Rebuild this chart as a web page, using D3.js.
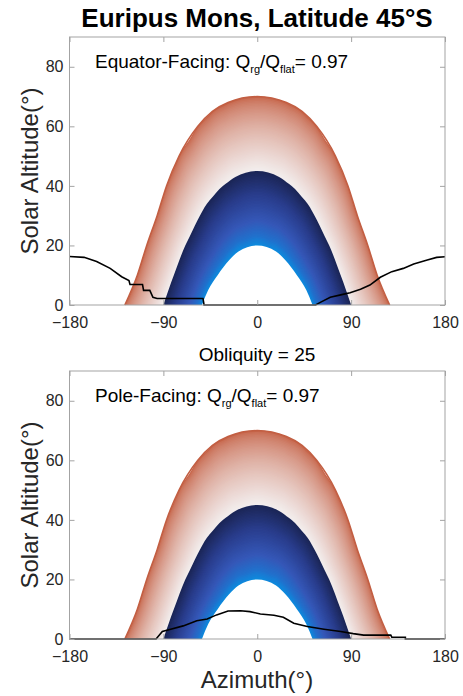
<!DOCTYPE html>
<html>
<head>
<meta charset="utf-8">
<script src="https://cdn.jsdelivr.net/npm/d3@7"></script>
<style>
  body { margin: 0; background: #fff; }
  text { font-family: "Liberation Sans", Arial, sans-serif; }
</style>
</head>
<body>
<svg id="chart" width="463" height="696"></svg>
<script>
// ------------------------------------------------------------
// data
// ------------------------------------------------------------
var azimuthTicks  = [-180, -90, 0, 90, 180];
var altitudeTicks = [0, 20, 40, 60, 80];

// sun paths, right half (symmetric about azimuth 0) : [azimuth, altitude]
var summerPath  = [[0,70],[28,68],[43,65],[57,60],[75,50],[87,40],[96,30],[106,20],[115,10],[127,0]];
var equinoxPath = [[0,45],[21,43],[33,40],[46,35],[55,30],[69,20],[80,10],[90,0]];
var winterPath  = [[0,20],[18,18],[27,15],[38,10],[47,5],[53,0]];

// horizon seen from each slope : [azimuth, altitude]
var equatorHorizon = [[-180,16.3],[-166,16.0],[-154,14.6],[-141,12.3],[-130,9.5],[-123,8.2],[-122,6.9],
  [-110,6.9],[-109,4.9],[-103,4.9],[-100,2.6],[-96,2.2],[-52,2.2],[-51,0],[56,0],[60,0.8],[70,2.6],
  [80,3.4],[89,4.1],[99,5.3],[108,6.7],[118,9.3],[129,11.2],[140,12.3],[150,13.8],[163,15.1],[172,16.0],[180,16.2]];
var poleHorizon = [[-180,0],[-97,0],[-91,2.5],[-83,3.3],[-71,4.4],[-58,6.1],[-48,6.7],[-39,8.1],[-28,9.4],
  [-16,9.5],[-7,9.2],[3,8.4],[16,8.0],[25,7.3],[35,5.3],[48,4.2],[64,3.3],[80,2.5],[92,1.8],[102,1.3],
  [128,1.3],[129,0.6],[142,0.6],[142,0],[180,0]];

var panelNames    = ["Equator-Facing", "Pole-Facing"];
var panelRatios   = ["0.97", "0.97"];
var panelHorizons = [equatorHorizon, poleHorizon];

var titleText = "Euripus Mons, Latitude 45\u00b0S";
var subTitle  = "Obliquity = 25";

// ------------------------------------------------------------
// layout
// ------------------------------------------------------------
var left = 69.5, right = 445, panelH = 268;
var panelTops = [37, 371];
var axisColor = "#a3a3a3", textColor = "#262626";

var svg = d3.select("#chart");

var x = d3.scaleLinear().domain([-180, 180]).range([left, right]);

// sun path helpers: normalise azimuth to u in [0,1]
function profile(path){
	var a0 = path[path.length-1][0];
	return {
		a0: a0,
		u: path.map(function(p){ return p[0]/a0; }),
		alt: d3.scaleLinear().domain(path.map(function(p){ return p[0]/a0; })).range(path.map(function(p){ return p[1]; }))
	};
}
var pSummer = profile(summerPath), pEquinox = profile(equinoxPath), pWinter = profile(winterPath);

// curve between two sun paths, t=0 -> a, t=1 -> b (used for the shading only)
function blend(a, b, t){
	var us = Array.from(new Set(a.u.concat(b.u))).sort(d3.ascending);
	var a0 = a.a0 + (b.a0 - a.a0)*t;
	var half = us.map(function(u){ return [u*a0, a.alt(u) + (b.alt(u) - a.alt(u))*t]; });
	var mirror = half.slice(1).map(function(p){ return [-p[0], p[1]]; }).reverse();
	return mirror.concat(half);
}

var orangeRamp = d3.interpolateRgb("#c6654a", "#f3efef");
var orangeColor = function(t){ return orangeRamp(Math.pow(t, 0.65)); };
var blueColor = d3.scaleLinear().domain([0, 0.3, 0.66, 0.86, 1])
	.range(["#1b2657", "#293c8b", "#3558b8", "#2170cc", "#0a8ee0"]).interpolate(d3.interpolateRgb);

var nSteps = 50;

panelTops.forEach(function(top, k){

	var y = d3.scaleLinear().domain([0, 90]).range([top + panelH, top]);
	var g = svg.append("g");

	var area = d3.area()
		.x(function(d){ return x(d[0]); })
		.y0(y(0))
		.y1(function(d){ return y(d[1]); })
		.curve(d3.curveMonotoneX);

	// orange band: summer -> equinox
	for (var i = 0; i <= nSteps; i++){
		var t = i/nSteps;
		g.append("path").attr("d", area(blend(pSummer, pEquinox, t))).attr("fill", orangeColor(t));
	}
	// blue band: equinox -> winter
	for (var j = 0; j <= nSteps; j++){
		var s = j/nSteps;
		g.append("path").attr("d", area(blend(pEquinox, pWinter, s))).attr("fill", blueColor(s));
	}
	g.append("path").attr("d", area(blend(pWinter, pWinter, 0))).attr("fill", "#fff");

	// outer edge of the summer path
	g.append("path")
		.attr("d", d3.line().x(function(d){ return x(d[0]); }).y(function(d){ return y(d[1]); })
			.curve(d3.curveMonotoneX)(blend(pSummer, pSummer, 0)))
		.attr("fill", "none").attr("stroke", "#c25e42").attr("stroke-width", 1.5);

	// horizon
	g.append("path")
		.datum(panelHorizons[k])
		.attr("d", d3.line().x(function(d){ return x(d[0]); }).y(function(d){ return y(d[1]); }))
		.attr("fill", "none").attr("stroke", "#000").attr("stroke-width", 1.6);

	// axes (MATLAB style, ticks inside, box)
	var axB = g.append("g").attr("transform", "translate(0," + (top + panelH) + ")")
		.call(d3.axisBottom(x).tickValues(azimuthTicks).tickSizeInner(-5).tickSizeOuter(0).tickPadding(12));
	var axT = g.append("g").attr("transform", "translate(0," + top + ")")
		.call(d3.axisTop(x).tickValues(azimuthTicks).tickSizeInner(-5).tickSizeOuter(0).tickFormat(""));
	var axL = g.append("g").attr("transform", "translate(" + left + ",0)")
		.call(d3.axisLeft(y).tickValues(altitudeTicks).tickSizeInner(-5).tickSizeOuter(0).tickPadding(6));
	var axR = g.append("g").attr("transform", "translate(" + right + ",0)")
		.call(d3.axisRight(y).tickValues(altitudeTicks).tickSizeInner(-5).tickSizeOuter(0).tickFormat(""));
	[axB, axT, axL, axR].forEach(function(a){
		a.select(".domain").remove();
		a.selectAll(".tick line").attr("stroke", axisColor);
		a.selectAll("text").attr("fill", textColor).style("font-size", "16px")
			.style("font-family", "'Liberation Sans', Arial, sans-serif");
	});
	g.append("rect").attr("x", left).attr("y", top).attr("width", right - left).attr("height", panelH)
		.attr("fill", "none").attr("stroke", axisColor).attr("stroke-width", 1);

	// annotation
	var note = g.append("text").attr("x", 95).attr("y", top + 31)
		.attr("fill", "#000").style("font-size", "19px");
	note.append("tspan").text(panelNames[k] + ": Q");
	note.append("tspan").attr("dy", 5).style("font-size", "11px").text("rg");
	note.append("tspan").attr("dy", -5).text("/Q");
	note.append("tspan").attr("dy", 5).style("font-size", "11px").text("flat");
	note.append("tspan").attr("dy", -5).text("= " + panelRatios[k]);

	// y label
	g.append("text")
		.attr("transform", "translate(38," + (top + panelH/2) + ") rotate(-90)")
		.attr("text-anchor", "middle").attr("fill", textColor)
		.style("font-size", "24px").text("Solar Altitude(\u00b0)");
});

svg.append("text").attr("x", 257).attr("y", 27).attr("text-anchor", "middle")
	.attr("fill", "#000").style("font-size", "26px").style("font-weight", "bold").text(titleText);

svg.append("text").attr("x", 257).attr("y", 361).attr("text-anchor", "middle")
	.attr("fill", "#000").style("font-size", "19px").text(subTitle);

svg.append("text").attr("x", 257).attr("y", 688).attr("text-anchor", "middle")
	.attr("fill", textColor).style("font-size", "24px").text("Azimuth(\u00b0)");
</script>
</body>
</html>
